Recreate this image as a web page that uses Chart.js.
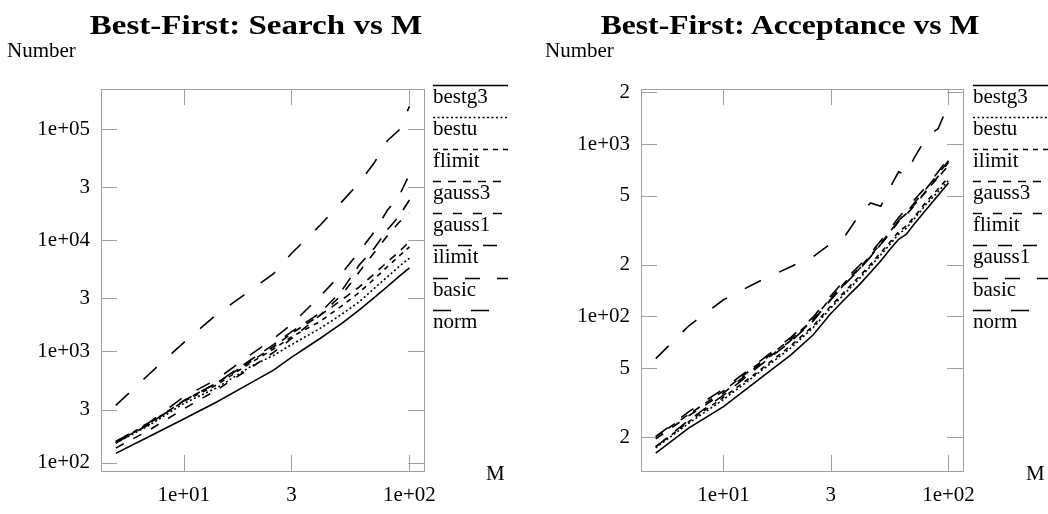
<!DOCTYPE html>
<html>
<head>
<meta charset="utf-8">
<script src="https://cdn.jsdelivr.net/npm/chart.js@4.4.0/dist/chart.umd.min.js"></script>
<style>
  body { margin: 0; background: #fff; width: 1048px; height: 514px; position: relative; overflow: hidden;
         font-family: 'Liberation Serif', 'Times New Roman', serif; color: #000; }
  .panel { position: absolute; top: 0; width: 524px; height: 514px; }
  .panel canvas { position: absolute; left: 0; top: 0; }
  .title { position: absolute; top: 11px; font-weight: bold; font-size: 28px; line-height: 1; white-space: nowrap; }
  .ylab { position: absolute; top: 40px; font-size: 21px; line-height: 1; }
  .xlab { position: absolute; top: 463px; font-size: 21px; line-height: 1; }
  .legend { position: absolute; top: 84px; width: 80px; }
  .legend .item { height: 32.1px; }
  .legend svg { display: block; }
  .legend .lab { font-size: 21px; line-height: 1; margin-top: -1px; }
</style>
</head>
<body>
<div class="panel" style="left:0">
  <canvas id="searchChart" width="524" height="514"></canvas>
  <div class="title" style="left:256px; transform: translateX(-50%) scaleX(1.18)">Best-First: Search vs M</div>
  <div class="ylab" style="left:7px">Number</div>
  <div class="xlab" style="left:486px">M</div>
  <div class="legend" id="searchLegend" style="left:433px"></div>
</div>
<div class="panel" style="left:524px">
  <canvas id="acceptChart" width="524" height="514"></canvas>
  <div class="title" style="left:266px; transform: translateX(-50%) scaleX(1.13)">Best-First: Acceptance vs M</div>
  <div class="ylab" style="left:21px">Number</div>
  <div class="xlab" style="left:502px">M</div>
  <div class="legend" id="acceptLegend" style="left:449px"></div>
</div>

<script>
// ---- Search vs M ----
const mSearch = [5, 7, 10, 14, 20, 25, 30, 40, 50, 60, 70, 80, 90, 100];
const searchNames = ['bestg3', 'bestu', 'flimit', 'gauss3', 'gauss1', 'ilimit', 'basic', 'norm'];
const searchBestg3 = [121, 171, 247, 351, 526, 679, 885, 1300, 1775, 2360, 3055, 3850, 4720, 5640];
const searchBestu  = [150, 215, 340, 470, 740, 920, 1150, 1600, 2150, 2800, 3700, 4700, 5800, 6900];
const searchFlimit = [155, 225, 355, 500, 800, 1050, 1350, 1850, 2550, 3400, 4500, 5800, 7200, 8700];
const searchGauss3 = [152, 222, 360, 520, 820, 1100, 1450, 2100, 2900, 3800, 5000, 6400, 7900, 9700];
const searchGauss1 = [135, 195, 304, 450, 720, 980, 1300, 2100, 3200, 5200, 7800, 11000, 14500, 17500];
const searchIlimit = [150, 220, 360, 520, 850, 1150, 1500, 2200, 3500, 6000, 8500, 12500, 16500, 23000];
const searchBasic  = [154, 228, 390, 560, 950, 1300, 1750, 3100, 5000, 7900, 12000, 18700, 25000, 39000];
const searchNorm   = [327, 620, 1200, 2150, 3600, 5000, 7600, 13500, 22000, 33000, 50000, 79000, 98000, 160000];
const searchYTicks = [100, 300, 1000, 3000, 10000, 30000, 100000];
const searchYLabels = ['1e+02', '3', '1e+03', '3', '1e+04', '3', '1e+05'];

// ---- Acceptance vs M ----
const mAccept = [5, 7, 10, 14, 20, 25, 30, 35, 40, 45, 50, 55, 60, 65, 70, 80, 90, 100];
const acceptNames = ['bestg3', 'bestu', 'ilimit', 'gauss3', 'flimit', 'gauss1', 'basic', 'norm'];
const acceptBestg3 = [16.1, 22.5, 30, 42, 60, 78, 104, 128, 152, 180, 210, 245, 280, 300, 340, 420, 505, 594];
const acceptBestu  = [17.3, 24, 33, 46, 66, 86, 112, 138, 165, 195, 228, 262, 300, 325, 365, 450, 530, 615];
const acceptIlimit = [17.6, 24.5, 34, 47, 68, 88, 115, 142, 170, 200, 235, 270, 310, 335, 375, 465, 550, 640];
const acceptGauss3 = [20.1, 27, 37, 52, 74, 96, 128, 160, 190, 225, 265, 310, 360, 395, 440, 540, 640, 750];
const acceptFlimit = [19.5, 26.5, 36, 51, 73, 95, 126, 157, 188, 222, 262, 305, 355, 390, 435, 535, 650, 780];
const acceptGauss1 = [17.5, 25, 35, 50, 72, 94, 125, 156, 186, 221, 262, 308, 360, 400, 450, 555, 670, 800];
const acceptBasic  = [20.1, 28, 38, 53, 76, 99, 132, 165, 196, 232, 275, 322, 375, 420, 470, 570, 690, 830];
const acceptNorm   = [57, 88, 125, 157, 195, 222, 265, 298, 385, 455, 435, 560, 690, 660, 820, 1100, 1230, 1700];
const acceptYTicks = [20, 50, 100, 200, 500, 1000, 2000];
const acceptYLabels = ['2', '5', '1e+02', '2', '5', '1e+03', '2'];

const xTicks = [10, 30, 100];
const xLabels = ['1e+01', '3', '1e+02'];

// line type by legend position (gnuplot style 1..8)
const dashes = [[], [2, 2.5], [5, 5], [8, 7], [9, 11], [14, 11], [15, 17], [18, 20]];

const FONT = 'Liberation Serif';
const TICK = 16;

// gray box with inward mirrored ticks
const frameTicks = {
  id: 'frameTicks',
  beforeDatasetsDraw(chart) {
    const { ctx, chartArea: a, scales: { x, y } } = chart;
    ctx.save();
    ctx.strokeStyle = '#a0a0a0';
    ctx.lineWidth = 1;
    ctx.beginPath();
    x.ticks.forEach(t => {
      const px = Math.round(x.getPixelForValue(t.value)) + 0.5;
      ctx.moveTo(px, a.bottom); ctx.lineTo(px, a.bottom - TICK);
      ctx.moveTo(px, a.top); ctx.lineTo(px, a.top + TICK);
    });
    y.ticks.forEach(t => {
      const py = Math.round(y.getPixelForValue(t.value)) + 0.5;
      ctx.moveTo(a.left, py); ctx.lineTo(a.left + TICK, py);
      ctx.moveTo(a.right, py); ctx.lineTo(a.right - TICK, py);
    });
    ctx.stroke();
    ctx.strokeRect(Math.round(a.left) + 0.5, Math.round(a.top) + 0.5, Math.round(a.width), Math.round(a.height));
    ctx.restore();
  }
};

function makeChart(id, mVals, names, series, yTicks, yLabels, yMin, yMax, yWidth, padRight) {
  const ctx = document.getElementById(id).getContext('2d');
  return new Chart(ctx, {
    type: 'line',
    data: {
      datasets: series.map((vals, i) => ({
        label: names[i],
        data: vals.map((v, j) => ({ x: mVals[j], y: v })),
        borderColor: '#000',
        borderWidth: 1.6,
        borderDash: dashes[i],
        pointRadius: 0,
        fill: false,
        tension: 0
      }))
    },
    options: {
      responsive: false,
      animation: false,
      layout: { padding: { left: 0, right: padRight, top: 89, bottom: 0 } },
      plugins: { legend: { display: false }, tooltip: { enabled: false } },
      scales: {
        x: {
          type: 'logarithmic',
          min: 4.3, max: 116,
          afterBuildTicks: axis => { axis.ticks = xTicks.map(v => ({ value: v })); },
          afterFit: axis => { axis.height = 43; },
          grid: { display: false, drawTicks: false },
          border: { display: false },
          ticks: {
            autoSkip: false, maxRotation: 0, padding: 12,
            color: '#000', font: { family: FONT, size: 21 },
            callback: (v, i) => xLabels[i]
          }
        },
        y: {
          type: 'logarithmic',
          min: yMin, max: yMax,
          afterBuildTicks: axis => { axis.ticks = yTicks.map(v => ({ value: v })); },
          afterFit: axis => { axis.width = yWidth; },
          grid: { display: false, drawTicks: false },
          border: { display: false },
          ticks: {
            autoSkip: false, padding: 11,
            color: '#000', font: { family: FONT, size: 21 },
            callback: (v, i) => yLabels[i]
          }
        }
      }
    },
    plugins: [frameTicks]
  });
}

function buildLegend(chart, elId) {
  const el = document.getElementById(elId);
  chart.data.datasets.forEach(ds => {
    const item = document.createElement('div');
    item.className = 'item';
    const dash = ds.borderDash.length ? ds.borderDash.join(' ') : 'none';
    item.innerHTML = '<svg width="75" height="3"><line x1="0" y1="1.5" x2="75" y2="1.5" stroke="#000" stroke-width="1.5" stroke-dasharray="' + dash + '"/></svg>' +
      '<div class="lab">' + ds.label + '</div>';
    el.appendChild(item);
  });
}

const searchChart = makeChart('searchChart', mSearch, searchNames,
  [searchBestg3, searchBestu, searchFlimit, searchGauss3, searchGauss1, searchIlimit, searchBasic, searchNorm],
  searchYTicks, searchYLabels, 84, 229000, 101, 100);
buildLegend(searchChart, 'searchLegend');

const acceptChart = makeChart('acceptChart', mAccept, acceptNames,
  [acceptBestg3, acceptBestu, acceptIlimit, acceptGauss3, acceptFlimit, acceptGauss1, acceptBasic, acceptNorm],
  acceptYTicks, acceptYLabels, 12.7, 2085, 117, 85);
buildLegend(acceptChart, 'acceptLegend');
</script>
</body>
</html>
